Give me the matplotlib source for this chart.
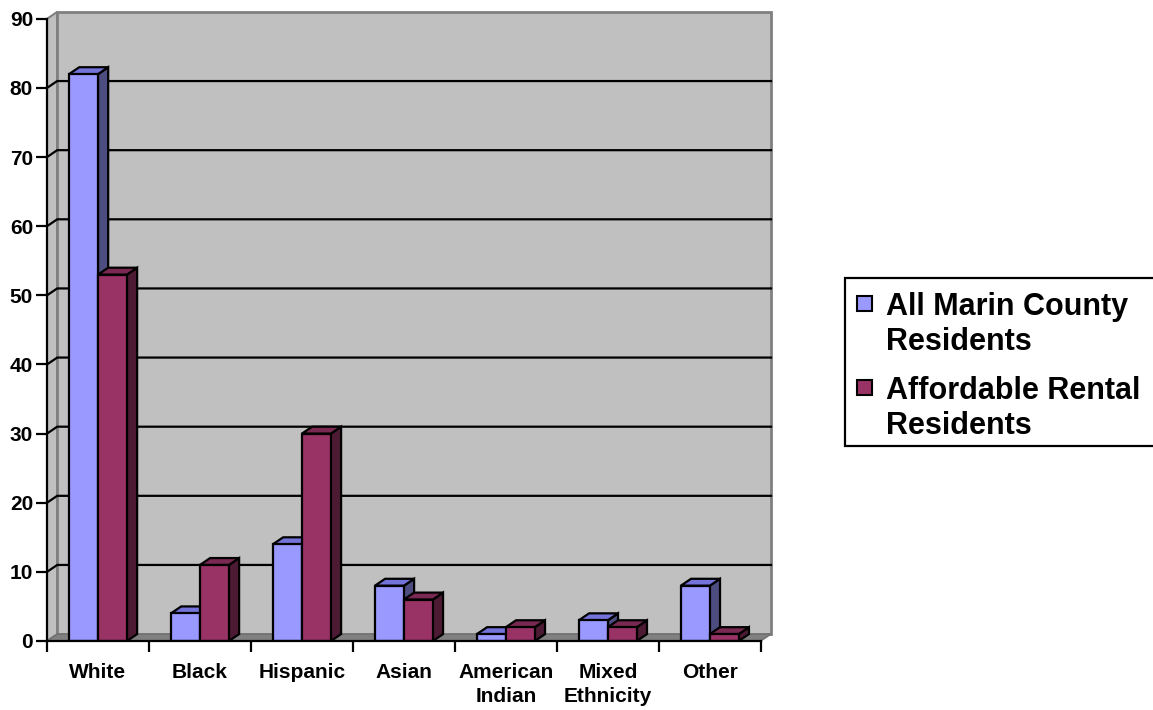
import matplotlib
matplotlib.use('Agg')
import matplotlib.pyplot as plt
from matplotlib.patches import Polygon, Rectangle

# data
categories = ['White', 'Black', 'Hispanic', 'Asian', 'American\nIndian', 'Mixed\nEthnicity', 'Other']
all_marin = [82, 4, 14, 8, 1, 3, 8]
affordable = [53, 11, 30, 6, 2, 2, 1]
series_names = ['All Marin County\nResidents', 'Affordable Rental\nResidents']
y_ticks = list(range(0, 100, 10))

plt.rcParams['font.family'] = ['Liberation Sans', 'DejaVu Sans']
plt.rcParams['font.weight'] = 'bold'

W, H = 1153, 710
fig = plt.figure(figsize=(W / 100, H / 100), dpi=100)
ax = fig.add_axes([47 / W, 69 / H, 724 / W, 636 / H])

n = len(categories)
DX, DY = 0.1, 1.0       # depth offset of the 3d box
top = y_ticks[-1]
bar_w = 0.284
bar_off = 0.216

ax.set_xlim(0, n + DX)
ax.set_ylim(0, 92)

# walls and floor
ax.add_patch(Polygon([(0, 0), (DX, DY), (DX, top + DY), (0, top)],
                     facecolor='#c0c0c0', edgecolor='#808080', lw=1.5, zorder=0))
ax.add_patch(Rectangle((DX, DY), n, top, facecolor='#c0c0c0',
                       edgecolor='#808080', lw=2, zorder=0, clip_on=False))
ax.add_patch(Polygon([(0, 0), (n, 0), (n + DX, DY), (DX, DY)],
                     facecolor='#808080', edgecolor='#707070', lw=1, zorder=0.5, clip_on=False))

for v in y_ticks[1:-1]:
    ax.plot([0, DX, n + DX], [v, v + DY, v + DY], color='black', lw=1.6, zorder=0.6, clip_on=False)


def bar3d(x0, v, front, topc, side):
    x1 = x0 + bar_w
    ax.add_patch(Polygon([(x1, 0), (x1 + DX, DY), (x1 + DX, v + DY), (x1, v)],
                         facecolor=side, edgecolor='black', lw=1.6, zorder=2))
    ax.add_patch(Polygon([(x0, v), (x1, v), (x1 + DX, v + DY), (x0 + DX, v + DY)],
                         facecolor=topc, edgecolor='black', lw=1.6, zorder=2))
    ax.add_patch(Rectangle((x0, 0), bar_w, v, facecolor=front,
                           edgecolor='black', lw=1.6, zorder=2))


blue = ('#9999ff', '#7373d9', '#4d4d80')
maroon = ('#993366', '#7a2952', '#4d1a33')

for i in range(n):
    bar3d(i + bar_off, all_marin[i], *blue)
    bar3d(i + bar_off + bar_w, affordable[i], *maroon)

# axes
for s in ['top', 'right']:
    ax.spines[s].set_visible(False)
ax.spines['left'].set_bounds(0, top)
ax.spines['bottom'].set_bounds(0, n)
for s in ['left', 'bottom']:
    ax.spines[s].set_linewidth(1.6)
    ax.spines[s].set_zorder(3)

ax.set_yticks(y_ticks)
ax.set_yticklabels([str(t) for t in y_ticks])
ax.set_xticks(range(n + 1))
ax.set_xticklabels([])
ax.set_xticks([i + 0.5 for i in range(n)], minor=True)
ax.set_xticklabels(categories, minor=True, linespacing=1.35)
ax.tick_params(axis='both', which='major', direction='out', length=8, width=1.6,
               labelsize=15, pad=2)
ax.tick_params(axis='x', which='minor', length=0, labelsize=15, pad=16)

# legend box
def px(x, y):
    return x / W, 1 - y / H

lx, ly = px(845, 446)
fig.patches.append(Rectangle((lx, ly), (1160 - 845) / W, (446 - 278) / H,
                             transform=fig.transFigure, facecolor='white',
                             edgecolor='black', lw=1.6, zorder=5))
leg_y = [305, 389]
for k, (name, col) in enumerate(zip(series_names, [blue[0], maroon[0]])):
    sx, sy = px(857, leg_y[k] + 6)
    fig.patches.append(Rectangle((sx, sy), 15 / W, 15 / H, transform=fig.transFigure,
                                 facecolor=col, edgecolor='black', lw=1.5, zorder=6))
    tx, ty = px(886, leg_y[k] - 13)
    fig.text(tx, ty, name, fontsize=22, fontweight='bold', va='top', ha='left',
             linespacing=1.2, zorder=7)

fig.savefig('out.png', dpi=100)
